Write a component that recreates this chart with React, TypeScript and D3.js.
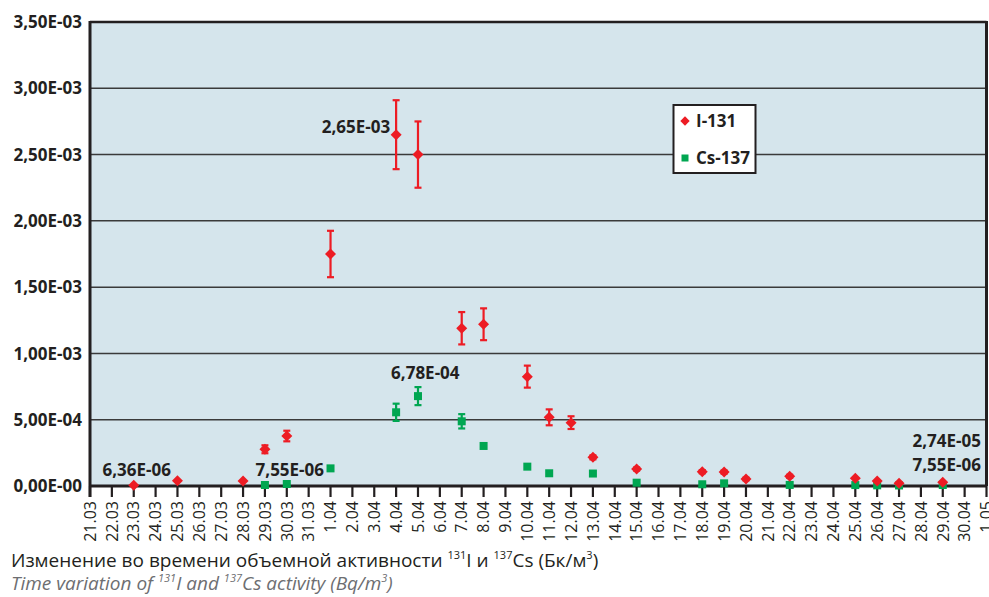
import * as d3 from 'd3';

const dates = [
  "21.03", "22.03", "23.03", "24.03", "25.03", "26.03", "27.03", "28.03", "29.03", "30.03", "31.03",
  "1.04", "2.04", "3.04", "4.04", "5.04", "6.04", "7.04", "8.04", "9.04", "10.04",
  "11.04", "12.04", "13.04", "14.04", "15.04", "16.04", "17.04", "18.04", "19.04", "20.04",
  "21.04", "22.04", "23.04", "24.04", "25.04", "26.04", "27.04", "28.04", "29.04", "30.04", "1.05"
]

const yTicks = [0, 5e-4, 1e-3, 1.5e-3, 2e-3, 2.5e-3, 3e-3, 3.5e-3]
const yTickLabels = ["0,00E-00", "5,00E-04", "1,00E-03", "1,50E-03", "2,00E-03", "2,50E-03", "3,00E-03", "3,50E-03"]

// I-131
const iDates = ["23.03", "25.03", "28.03", "29.03", "30.03", "1.04", "4.04", "5.04", "7.04", "8.04", "10.04", "11.04",
  "12.04", "13.04", "15.04", "18.04", "19.04", "20.04", "22.04", "25.04", "26.04", "27.04", "29.04"]
const iValues = [6.36e-6, 4.0e-5, 3.8e-5, 2.77e-4, 3.77e-4, 1.75e-3, 2.65e-3, 2.5e-3, 1.19e-3, 1.22e-3, 8.25e-4, 5.18e-4,
  4.78e-4, 2.16e-4, 1.28e-4, 1.08e-4, 1.05e-4, 5.3e-5, 7.3e-5, 5.8e-5, 3.8e-5, 2.0e-5, 2.74e-5]
const iErrors = [0, 0, 0, 3e-5, 4e-5, 1.75e-4, 2.6e-4, 2.5e-4, 1.22e-4, 1.2e-4, 8.3e-5, 6e-5,
  4.8e-5, 1.5e-5, 1.2e-5, 1.2e-5, 1.2e-5, 1e-5, 1.2e-5, 0, 0, 0, 0]

// Cs-137
const csDates = ["29.03", "30.03", "1.04", "4.04", "5.04", "7.04", "8.04", "10.04", "11.04", "13.04", "15.04",
  "18.04", "19.04", "22.04", "25.04", "26.04", "27.04", "29.04"]
const csValues = [7.55e-6, 1.5e-5, 1.33e-4, 5.56e-4, 6.78e-4, 4.88e-4, 3.02e-4, 1.46e-4, 9.6e-5, 9.4e-5, 2.5e-5,
  1.3e-5, 2.0e-5, 8e-6, 7e-6, 5e-6, 4e-6, 7.55e-6]
const csErrors = [0, 0, 0, 6.5e-5, 6.8e-5, 5.4e-5, 0, 0, 0, 0, 0, 0, 0, 0, 0, 0, 0, 0]

const RED = '#ed1c24'
const GREEN = '#00a651'
const DARK = '#231f20'
const FONT = "'Open Sans', 'DejaVu Sans', sans-serif"

const W = 989
const H = 597
const left = 90
const right = 986.5
const top = 22
const bottom = 486

function App() {
  const x = d3.scalePoint<string>().domain(dates).range([left, right])
  const y = d3.scaleLinear().domain([0, 3.5e-3]).range([bottom, top])

  const diamond = 'M0,-5.5L5.5,0L0,5.5L-5.5,0Z'
  const cap = 3.5

  const errBar = (d: string, v: number, e: number, color: string, key: string) => {
    if (!e) return null
    const cx = x(d) as number
    const y1 = y(v + e)
    const y2 = y(v - e)
    return (
      <g key={key} stroke={color} strokeWidth={2.2}>
        <line x1={cx} x2={cx} y1={y1} y2={y2} />
        <line x1={cx - cap} x2={cx + cap} y1={y1} y2={y1} />
        <line x1={cx - cap} x2={cx + cap} y1={y2} y2={y2} />
      </g>
    )
  }

  return (
    <svg width={W} height={H} style={{ position: 'absolute', left: 0, top: 0, background: '#fff' }} fontFamily={FONT}>
      <rect x={left} y={top} width={right - left} height={bottom - top} fill="#d5e5ec" />

      {/* grid */}
      {yTicks.slice(1, -1).map(t => (
        <line key={t} x1={left} x2={right} y1={y(t)} y2={y(t)} stroke="#3a3a3a" strokeWidth={1.5} />
      ))}

      {/* y labels */}
      {yTicks.map((t, i) => (
        <text key={t} x={82} y={y(t)} dy="0.36em" textAnchor="end" fontSize={17} fontWeight="bold" fill={DARK}>
          {yTickLabels[i]}
        </text>
      ))}

      {/* x ticks and labels */}
      {dates.map(d => (
        <g key={d}>
          <line x1={x(d)} x2={x(d)} y1={bottom} y2={bottom + 11} stroke={DARK} strokeWidth={2.2} />
          <text transform={`translate(${x(d)},${bottom + 15}) rotate(-90)`} textAnchor="end" dy="0.36em"
            fontSize={16} fill={DARK}>{d}</text>
        </g>
      ))}

      {/* frame */}
      <line x1={left} x2={right} y1={top} y2={top} stroke={DARK} strokeWidth={2.5} />
      <line x1={right} x2={right} y1={top - 1} y2={bottom} stroke={DARK} strokeWidth={3} />
      <line x1={left} x2={right} y1={bottom} y2={bottom} stroke={DARK} strokeWidth={3} />
      <line x1={left} x2={left} y1={top - 1} y2={bottom + 11} stroke={DARK} strokeWidth={3} />

      {/* legend */}
      <rect x={673.5} y={105} width={82} height={68} fill="#fff" stroke={DARK} strokeWidth={2} />
      <path d={diamond} transform="translate(685,121) scale(0.85)" fill={RED} />
      <text x={696} y={127} fontSize={17} fontWeight="bold" fill={DARK}>I-131</text>
      <rect x={681.5} y={154.5} width={7} height={7} fill={GREEN} />
      <text x={696} y={164} fontSize={17} fontWeight="bold" fill={DARK}>Cs-137</text>

      {/* Cs-137 */}
      {csDates.map((d, i) => errBar(d, csValues[i], csErrors[i], GREEN, 'ce' + d))}
      {csDates.map((d, i) => (
        <rect key={'c' + d} x={(x(d) as number) - 4} y={y(csValues[i]) - 4} width={8} height={8} fill={GREEN} />
      ))}

      {/* I-131 */}
      {iDates.map((d, i) => errBar(d, iValues[i], iErrors[i], RED, 'ie' + d))}
      {iDates.map((d, i) => (
        <path key={'i' + d} d={diamond} transform={`translate(${x(d)},${y(iValues[i])})`} fill={RED} />
      ))}

      {/* annotations */}
      <g fontSize={17} fontWeight="bold" fill={DARK}>
        <text x={(x("23.03") as number) + 3} y={476} textAnchor="middle">6,36E-06</text>
        <text x={(x("30.03") as number) + 3} y={476} textAnchor="middle">7,55E-06</text>
        <text x={(x("4.04") as number) - 6} y={y(2.65e-3) - 2} textAnchor="end">2,65E-03</text>
        <text x={(x("4.04") as number) - 5} y={y(6.78e-4) - 17} textAnchor="start">6,78E-04</text>
        <text x={981} y={y(2.74e-5) - 35} textAnchor="end">2,74E-05</text>
        <text x={981} y={y(7.55e-6) - 14} textAnchor="end">7,55E-06</text>
      </g>

      {/* caption */}
      <text x={11} y={567} fontSize={19} fill={DARK}>
        Изменение во времени объемной активности <tspan fontSize={11} dy={-8}>131</tspan>
        <tspan dy={8}>I и </tspan><tspan fontSize={11} dy={-8}>137</tspan>
        <tspan dy={8}>Cs (Бк/м</tspan><tspan fontSize={11} dy={-8}>3</tspan><tspan dy={8}>)</tspan>
      </text>
      <text x={11} y={590} fontSize={19} fontStyle="italic" fill="#6d6e71">
        Time variation of <tspan fontSize={11} dy={-8}>131</tspan>
        <tspan dy={8}>I and </tspan><tspan fontSize={11} dy={-8}>137</tspan>
        <tspan dy={8}>Cs activity (Bq/m</tspan><tspan fontSize={11} dy={-8}>3</tspan><tspan dy={8}>)</tspan>
      </text>
    </svg>
  )
}

export default App
